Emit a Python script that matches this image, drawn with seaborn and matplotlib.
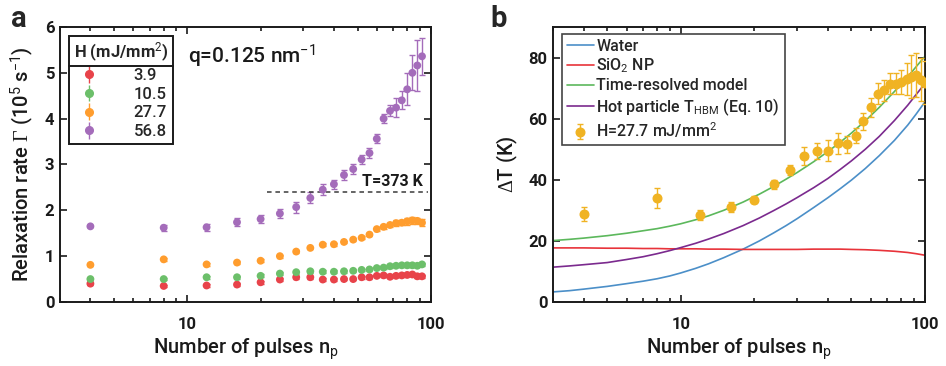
import matplotlib
matplotlib.use("Agg")
import matplotlib.pyplot as plt
import pandas as pd
import seaborn as sns
from matplotlib.lines import Line2D
from matplotlib.ticker import LogLocator, NullFormatter, FixedLocator, FuncFormatter

# ---------------- panel a: relaxation rate vs pulse number ----------------
pulses_a = [4, 8, 12, 16, 20, 24, 28, 32, 36, 40, 44, 48, 52, 56, 60, 64,
            68, 72, 76, 80, 84, 88, 92]
fluences = ["3.9", "10.5", "27.7", "56.8"]
rate_3p9 = [0.40, 0.35, 0.36, 0.38, 0.43, 0.49, 0.54, 0.54, 0.49, 0.49, 0.50,
            0.50, 0.54, 0.54, 0.57, 0.58, 0.55, 0.57, 0.58, 0.59, 0.60, 0.56, 0.56]
rate_10p5 = [0.50, 0.50, 0.54, 0.54, 0.57, 0.62, 0.65, 0.67, 0.66, 0.66, 0.67,
             0.68, 0.70, 0.71, 0.74, 0.75, 0.78, 0.79, 0.80, 0.80, 0.80, 0.79, 0.82]
rate_27p7 = [0.81, 0.93, 0.82, 0.86, 0.90, 1.00, 1.10, 1.18, 1.25, 1.26, 1.31,
             1.36, 1.40, 1.47, 1.59, 1.64, 1.68, 1.72, 1.73, 1.76, 1.78, 1.77, 1.73]
rate_56p8 = [1.65, 1.62, 1.63, 1.74, 1.81, 1.93, 2.07, 2.27, 2.45, 2.57, 2.77,
             2.90, 3.11, 3.25, 3.56, 4.00, 4.17, 4.24, 4.40, 4.64, 5.00, 5.16, 5.36]
err_3p9 = [0.02, 0.03, 0.03, 0.03, 0.03, 0.03, 0.03, 0.03, 0.03, 0.03, 0.03,
           0.03, 0.03, 0.03, 0.03, 0.03, 0.03, 0.03, 0.03, 0.03, 0.03, 0.03, 0.03]
err_10p5 = [0.02, 0.03, 0.03, 0.03, 0.03, 0.03, 0.03, 0.03, 0.03, 0.03, 0.03,
            0.03, 0.03, 0.03, 0.03, 0.03, 0.03, 0.03, 0.03, 0.03, 0.03, 0.03, 0.03]
err_27p7 = [0.02, 0.03, 0.03, 0.03, 0.03, 0.03, 0.03, 0.03, 0.03, 0.03, 0.03,
            0.03, 0.03, 0.03, 0.04, 0.05, 0.05, 0.06, 0.06, 0.07, 0.07, 0.07, 0.07]
err_56p8 = [0.02, 0.07, 0.08, 0.09, 0.09, 0.10, 0.12, 0.12, 0.12, 0.10, 0.10,
            0.10, 0.10, 0.10, 0.10, 0.10, 0.12, 0.20, 0.20, 0.35, 0.38, 0.55, 0.41]
colors_a = ["#e8434a", "#6cbf6a", "#ff9d2e", "#a46cba"]
boiling_rate = 2.39
boiling_span = [21.3, 97.0]

# ---------------- panel b: temperature rise vs pulse number ----------------
pulses_b = [4, 8, 12, 16, 20, 24, 28, 32, 36, 40, 44, 48, 52, 56, 60, 64, 68,
            72, 76, 80, 84, 88, 92, 96, 100]
dT_meas = [28.8, 34.0, 28.5, 31.0, 33.5, 38.5, 43.2, 47.8, 49.5, 49.5, 51.9,
           51.6, 54.4, 59.2, 63.7, 68.2, 69.3, 71.5, 71.5, 72.0, 72.9, 73.7,
           74.3, 72.8, 71.8]
dT_err = [2.2, 3.3, 1.6, 1.6, 1.2, 1.5, 1.6, 3.0, 2.6, 3.4, 3.4, 2.7, 2.5, 2.8,
          3.0, 3.4, 3.5, 3.4, 3.3, 3.8, 5.2, 7.0, 7.3, 7.0, 7.0]

model_n = [3, 3.5, 4, 5, 6, 7, 8, 9, 10, 11.5, 13, 15, 18, 21, 24, 27, 30, 35,
           40, 45, 50, 57, 65, 75, 85, 92, 100]
water_T = [3.3, 3.7, 4.2, 5.1, 6.0, 6.8, 7.6, 8.5, 9.5, 11.0, 12.5, 14.5, 17.3,
           20.0, 22.6, 25.0, 27.3, 30.9, 34.1, 37.1, 39.9, 43.7, 47.9, 52.9,
           57.9, 61.5, 65.5]
sio2_T = [17.7, 17.7, 17.7, 17.6, 17.6, 17.5, 17.5, 17.4, 17.4, 17.4, 17.3,
          17.3, 17.2, 17.2, 17.2, 17.2, 17.2, 17.3, 17.3, 17.3, 17.2, 17.1,
          16.9, 16.6, 16.2, 15.8, 15.3]
resolved_T = [20.1, 20.5, 20.9, 21.7, 22.5, 23.3, 24.0, 24.8, 25.6, 26.9, 28.2,
              30.0, 32.7, 35.3, 37.8, 40.2, 42.4, 45.9, 49.2, 52.3, 55.3, 59.3,
              63.7, 68.9, 73.7, 77.0, 80.4]
hot_T = [11.4, 11.8, 12.2, 12.9, 13.9, 14.8, 15.8, 16.8, 17.8, 19.2, 20.6, 22.4,
         25.0, 27.5, 29.9, 32.1, 34.2, 37.4, 40.4, 43.4, 46.2, 50.0, 54.2, 59.4,
         64.4, 67.9, 71.5]
line_labels = ["Water", r"SiO$_\mathrm{2}$ NP", "Time-resolved model",
               r"Hot particle T$_\mathrm{HBM}$ (Eq. 10)"]
line_colors = ["#4b8fc8", "#e8333a", "#5cb85c", "#7b2a8e"]
meas_color = "#f0b323"

# ---------------- style ----------------
sns.set_theme(style="ticks")
plt.rcParams["font.family"] = ["Roboto", "DejaVu Sans"]
plt.rcParams["mathtext.fontset"] = "custom"
plt.rcParams["mathtext.rm"] = "Roboto"
plt.rcParams["mathtext.sf"] = "Roboto"
plt.rcParams["mathtext.it"] = "Roboto:italic"
plt.rcParams["mathtext.bf"] = "Roboto:bold"
plt.rcParams["mathtext.tt"] = "Liberation Serif"
plt.rcParams["axes.linewidth"] = 1.4
plt.rcParams["axes.edgecolor"] = "#1a1a1a"

fig = plt.figure(figsize=(9.46, 3.66), dpi=100)
ax_a = fig.add_axes([0.0634, 0.1749, 0.392, 0.7514])
ax_b = fig.add_axes([0.5846, 0.1749, 0.3932, 0.7514])


def style_axes(ax):
    ax.set_xscale("log")
    ax.tick_params(which="both", direction="in", top=True, right=True,
                   color="#1a1a1a", width=1.2)
    ax.tick_params(which="major", length=5)
    ax.tick_params(which="minor", length=3)
    ax.tick_params(axis="x", which="major", pad=11, labelsize=12)
    ax.tick_params(axis="y", which="major", pad=4, labelsize=12)
    ax.xaxis.set_major_locator(FixedLocator([10, 100]))
    ax.xaxis.set_major_formatter(FuncFormatter(lambda v, p: f"{v:g}"))
    ax.xaxis.set_minor_locator(LogLocator(base=10, subs=range(2, 10)))
    ax.xaxis.set_minor_formatter(NullFormatter())
    for lab in ax.get_xticklabels() + ax.get_yticklabels():
        lab.set_fontweight("bold")
        lab.set_color("#1a1a1a")
    for sp in ax.spines.values():
        sp.set_visible(True)
    ax.set_xlabel(r"Number of pulses n$_\mathrm{p}$", fontsize=14.5,
                  fontweight="medium", color="#1a1a1a", labelpad=3)


# panel a
series_a = [rate_3p9, rate_10p5, rate_27p7, rate_56p8]
errors_a = [err_3p9, err_10p5, err_27p7, err_56p8]
handles_a = []
for lab, vals, errs, col in zip(fluences, series_a, errors_a, colors_a):
    ax_a.errorbar(pulses_a, vals, yerr=errs, fmt="none", ecolor=col,
                  elinewidth=1.0, capsize=2.2, capthick=1.0, zorder=2)
    sns.scatterplot(x=pulses_a, y=vals, ax=ax_a, color=col, s=32,
                    edgecolor="none", zorder=3, legend=False)
    handles_a.append(ax_a.errorbar([], [], yerr=[], fmt="o", color=col, ms=5.5,
                                   elinewidth=1.0, capsize=2.2, label=lab))
ax_a.plot(boiling_span, [boiling_rate, boiling_rate], ls=(0, (3, 2.5)),
          color="#3a3a3a", lw=1.1)
ax_a.text(93, boiling_rate + 0.08, "T=373 K", ha="right", va="bottom",
          fontsize=11.5, fontweight="bold", color="#1a1a1a")
ax_a.text(10.1, 5.36, r"q=0.125 nm$^{\mathrm{-1}}$", ha="left", va="center",
          fontsize=15, fontweight="medium", color="#1a1a1a")
ax_a.set_xlim(3, 100)
ax_a.set_ylim(0, 6)
ax_a.yaxis.set_major_locator(FixedLocator([0, 1, 2, 3, 4, 5, 6]))
style_axes(ax_a)
ax_a.set_ylabel(r"Relaxation rate $\mathtt{\Gamma}$ (10$^{\mathrm{5}}$ s$^{\mathrm{-1}}$)",
                fontsize=14.5, fontweight="medium", color="#1a1a1a", labelpad=6)
leg_a = ax_a.legend(handles=handles_a, labels=fluences,
                    title=r"H (mJ/mm$^{\mathrm{2}}$)",
                    loc="upper left", bbox_to_anchor=(0.024, 0.967),
                    borderaxespad=0, frameon=True, fancybox=False,
                    edgecolor="#1a1a1a", framealpha=1,
                    prop={"size": 12, "weight": "medium"},
                    title_fontproperties={"size": 12, "weight": "bold"},
                    handlelength=1.6, handletextpad=1.9, labelspacing=0.22,
                    borderpad=0.3)
leg_a.get_frame().set_linewidth(1.4)

# panel b
for vals, lab, col in zip([water_T, sio2_T, resolved_T, hot_T], line_labels, line_colors):
    df = pd.DataFrame({"n": model_n, "T": vals})
    sns.lineplot(data=df, x="n", y="T", ax=ax_b, color=col, lw=1.2, label=lab)
ax_b.errorbar(pulses_b, dT_meas, yerr=dT_err, fmt="o", color=meas_color,
              ms=6.2, elinewidth=1.0, capsize=2.5, capthick=1.0,
              label=r"H=27.7 mJ/mm$^{\mathrm{2}}$", zorder=4)
ax_b.set_xlim(3, 100)
ax_b.set_ylim(0, 90)
ax_b.yaxis.set_major_locator(FixedLocator([0, 20, 40, 60, 80]))
style_axes(ax_b)
ax_b.set_ylabel(r"$\mathtt{\Delta}$T (K)", fontsize=14.5, fontweight="medium",
                color="#1a1a1a", labelpad=6)
h_b, l_b = ax_b.get_legend_handles_labels()
leg_b = ax_b.legend(h_b, l_b, loc="upper left", bbox_to_anchor=(0.024, 0.975),
                    borderaxespad=0, frameon=True, fancybox=False,
                    edgecolor="#444444", framealpha=1,
                    prop={"size": 11.5, "weight": "medium"},
                    handlelength=1.7, handletextpad=0.15, labelspacing=0.18,
                    borderpad=0.3)
leg_b.get_frame().set_linewidth(1.2)

# panel letters
fig.text(0.012, 0.985, "a", fontsize=21, fontweight="bold", va="top", ha="left")
fig.text(0.518, 0.985, "b", fontsize=21, fontweight="bold", va="top", ha="left")

# separator under the legend title of panel a
fig.canvas.draw()
renderer = fig.canvas.get_renderer()
frame_bb = leg_a.get_frame().get_window_extent(renderer)
title_bb = leg_a.get_title().get_window_extent(renderer)
y_sep = title_bb.y0 - 2
inv = fig.transFigure.inverted()
(x0f, yf), (x1f, _) = inv.transform([(frame_bb.x0, y_sep), (frame_bb.x1, y_sep)])
fig.add_artist(Line2D([x0f, x1f], [yf, yf], color="#1a1a1a", lw=1.4,
                      transform=fig.transFigure, zorder=10))

fig.savefig("out.png", dpi=100)
